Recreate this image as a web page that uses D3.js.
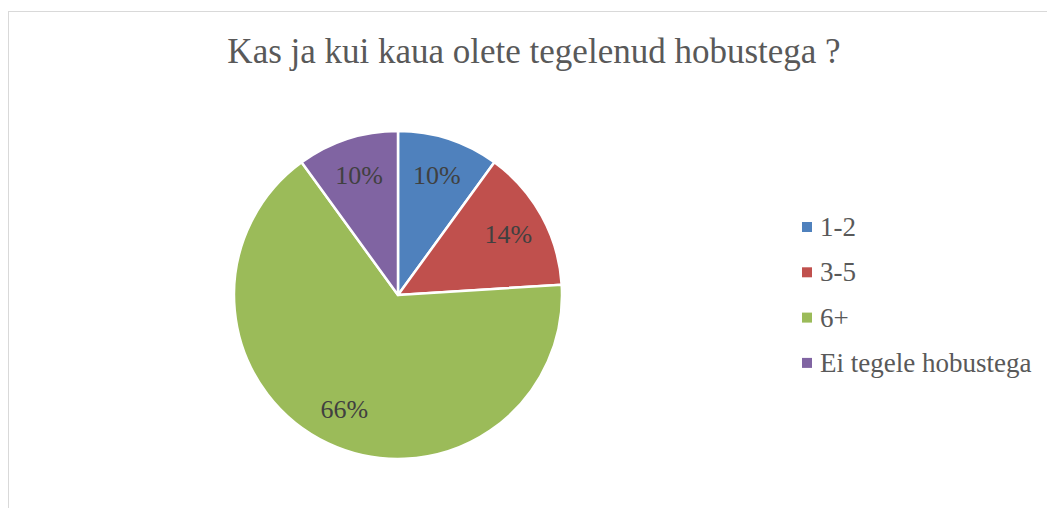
<!DOCTYPE html>
<html>
<head>
<meta charset="utf-8">
<script src="https://cdn.jsdelivr.net/npm/d3@7"></script>
<style>
  body { margin: 0; background: #fff; }
  svg { display: block; }
  svg text { font-family: "Liberation Serif", "DejaVu Serif", serif; }
</style>
</head>
<body>
<svg id="chart"></svg>
<script>
const CATEGORIES = ['1-2', '3-5', '6+', 'Ei tegele hobustega'];
const VALUES = [10, 14, 66, 10];
const COLORS = ['#4f81bd', '#c0504d', '#9bbb59', '#8064a2'];
const TITLE = 'Kas ja kui kaua olete tegelenud hobustega ?';

const width = 1047;
const height = 508;
const center = {x: 398, y: 295};
const r = 164;

const svg = d3.select('#chart')
  .attr('width', width)
  .attr('height', height);

// chart area border (runs off the right/bottom edge)
svg.append('rect')
  .attr('x', 8.5)
  .attr('y', 11.5)
  .attr('width', width + 20)
  .attr('height', height + 20)
  .attr('fill', '#fff')
  .attr('stroke', '#d9d9d9')
  .attr('stroke-width', 1);

svg.append('text')
  .attr('x', 534)
  .attr('y', 63)
  .attr('text-anchor', 'middle')
  .attr('fill', '#595959')
  .attr('font-size', 35)
  .text(TITLE);

const pie = d3.pie().sort(null).value(d => d);
const arcs = pie(VALUES);

const arc = d3.arc().innerRadius(0).outerRadius(r);
// centroid sits at (inner + outer) / 2 = 126
const labelArc = d3.arc().innerRadius(126).outerRadius(126);

const g = svg.append('g')
  .attr('transform', `translate(${center.x}, ${center.y})`);

g.selectAll('path')
  .data(arcs).enter()
  .append('path')
    .attr('d', arc)
    .attr('fill', (d, i) => COLORS[i])
    .attr('stroke', '#fff')
    .attr('stroke-width', 2.5)
    .attr('stroke-linejoin', 'round');

g.selectAll('text.pct')
  .data(arcs).enter()
  .append('text')
    .attr('class', 'pct')
    .attr('transform', d => `translate(${labelArc.centroid(d)})`)
    .attr('text-anchor', 'middle')
    .attr('dy', '0.35em')
    .attr('fill', '#404040')
    .attr('font-size', 26)
    .text(d => Math.round(d.data) + '%');

// legend
const legend = svg.append('g')
  .attr('transform', 'translate(802, 227)');

const row = legend.selectAll('g')
  .data(CATEGORIES).enter()
  .append('g')
    .attr('transform', (d, i) => `translate(0, ${i * 45.3})`);

row.append('rect')
  .attr('x', 0)
  .attr('y', -5)
  .attr('width', 10)
  .attr('height', 10)
  .attr('fill', (d, i) => COLORS[i]);

row.append('text')
  .attr('x', 18)
  .attr('y', 9)
  .attr('fill', '#595959')
  .attr('font-size', 27)
  .text(d => d);
</script>
</body>
</html>
